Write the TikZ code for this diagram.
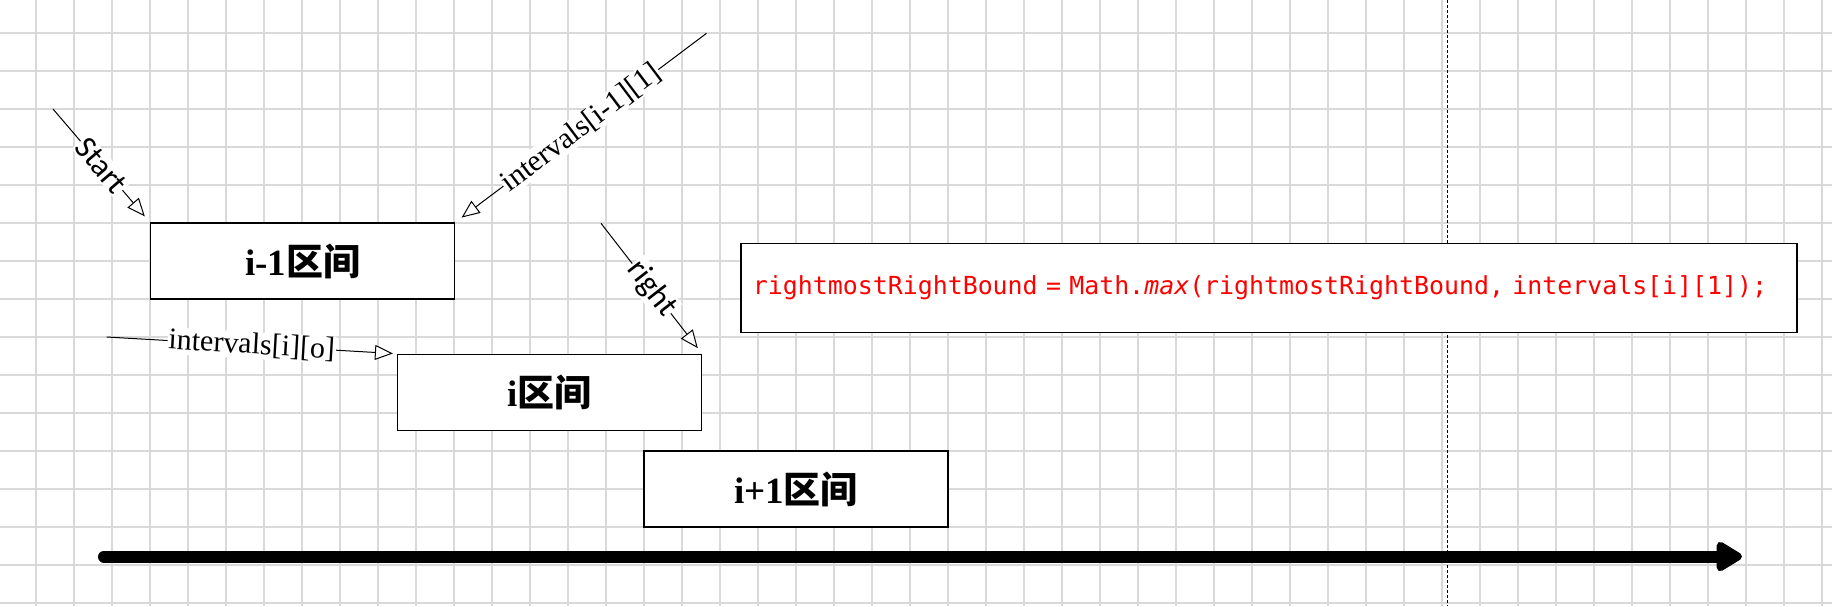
\documentclass[tikz,border=0pt]{standalone}
\usepackage{fontspec}
\setmainfont{Liberation Serif}
\newfontfamily\cjkFont{Noto Sans CJK SC}
\newfontfamily\labelSans{Carlito}
\newfontfamily\codeFont{DejaVu Sans Mono}[ItalicFont=* Oblique]
\usetikzlibrary{arrows.meta}

\begin{document}
\begin{tikzpicture}[
    x=1pt, y=-1pt,
    gridLine/.style={draw={rgb,255:red,217;green,217;blue,217}, line width=1.7pt},
    intervalBox/.style={draw, fill=white, line width=1.2pt, minimum width=304pt,
        minimum height=76pt, inner sep=0pt, font=\fontsize{37}{40}\selectfont\bfseries},
    codeBox/.style={draw, fill=white, line width=1.8pt, minimum height=89pt,
        text width=1032pt, inner xsep=12pt, align=left, text=red,
        font=\codeFont\fontsize{24.9}{28}\selectfont},
    ptrArrow/.style={draw, line width=1pt,
        -{Triangle[open, length=18pt, width=15pt, fill=white]}},
    sansLabel/.style={sloped, fill=white, inner sep=1pt,
        font=\labelSans\fontsize{32}{34}\selectfont},
    serifLabel/.style={sloped, fill=white, inner sep=1pt,
        font=\fontsize{30}{32}\selectfont},
]

    \fill[white] (0,0) rectangle (1832,606);
    \useasboundingbox (0,0) rectangle (1832,606);

    \foreach \gx in {36,74,...,1822}
        \draw[gridLine] (\gx,0) -- (\gx,606);
    \foreach \gy in {33,71,...,603}
        \draw[gridLine] (0,\gy) -- (1832,\gy);

    \draw[line width=1pt, dash pattern=on 3pt off 2pt] (1447.5,0) -- (1447.5,606);

    \node[intervalBox] (prevBox) at (302.6,261) {i-1{\cjkFont 区间}};
    \node[intervalBox] (curBox) at (549.5,392.3) {i{\cjkFont 区间}};
    \node[intervalBox] (nextBox) at (796,489) {i+1{\cjkFont 区间}};

    \node[codeBox, anchor=west] (codeLine) at (740,287.9)
        {rightmostRightBound = Math.{\itshape max}(rightmostRightBound, intervals[i][1]);};

    \coordinate (startTail) at (53,109);
    \coordinate (prevEndTail) at (706.5,33.3);
    \coordinate (curStartTail) at (106.6,337);
    \coordinate (rightTail) at (601,223.3);

    \draw[ptrArrow, shorten >=8pt] (startTail) -- (prevBox.north west)
        node[sansLabel, midway] {Start};
    \draw[ptrArrow, shorten >=8pt] (prevEndTail) -- (prevBox.north east)
        node[serifLabel, midway] {intervals[i-1][1]};
    \draw[ptrArrow, shorten >=4pt] (curStartTail) -- (curBox.north west)
        node[serifLabel, midway] {intervals[i][o]};
    \draw[ptrArrow, shorten >=7pt] (rightTail) -- (curBox.north east)
        node[sansLabel, midway] {right};

    \coordinate (axisStart) at (104,556.5);
    \coordinate (axisEnd) at (1742,556.5);
    \draw[line width=12pt, line cap=round,
        -{Triangle[round, length=29pt, width=33pt]}] (axisStart) -- (axisEnd);

\end{tikzpicture}
\end{document}
